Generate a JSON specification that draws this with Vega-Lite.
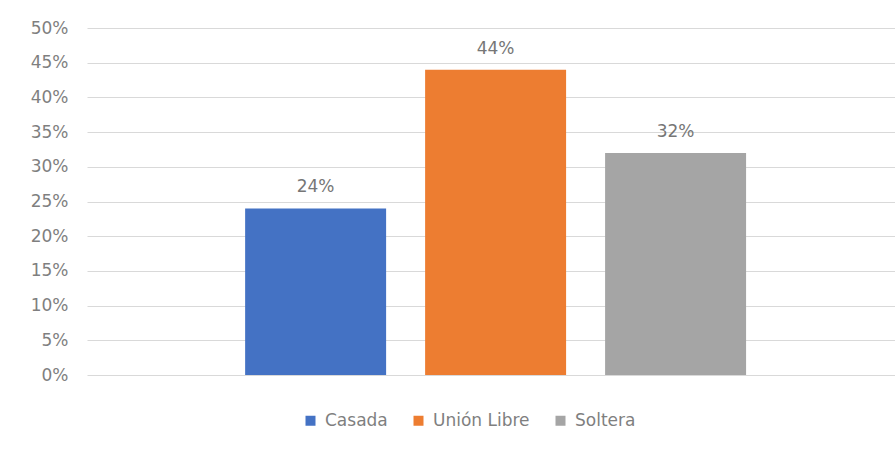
{
  "$schema": "https://vega.github.io/schema/vega-lite/v6.json",
  "width": 808,
  "height": 347,
  "autosize": {"type": "none"},
  "padding": {"left": 87, "top": 28, "right": 0, "bottom": 78},
  "background": "white",
  "config": {
    "view": {"stroke": null},
    "font": "DejaVu Sans"
  },
  "data": {
    "values": [
      {"estado": "Casada", "pct": 0.24},
      {"estado": "Unión Libre", "pct": 0.44},
      {"estado": "Soltera", "pct": 0.32}
    ]
  },
  "encoding": {
    "x": {
      "field": "estado",
      "type": "nominal",
      "sort": ["Casada", "Unión Libre", "Soltera"],
      "scale": {"paddingInner": 0.2167, "paddingOuter": 0.853, "align": 0.515},
      "axis": null
    },
    "y": {
      "field": "pct",
      "type": "quantitative",
      "scale": {"domain": [0, 0.5], "nice": false},
      "axis": {
        "title": null,
        "format": ".0%",
        "values": [0, 0.05, 0.1, 0.15, 0.2, 0.25, 0.3, 0.35, 0.4, 0.45, 0.5],
        "domain": false,
        "ticks": false,
        "labelPadding": 19,
        "labelFontSize": 17,
        "labelColor": "#7f7f7f",
        "gridColor": "#d9d9d9",
        "gridWidth": 1.2
      }
    }
  },
  "layer": [
    {
      "mark": {"type": "bar"},
      "encoding": {
        "color": {
          "field": "estado",
          "type": "nominal",
          "sort": ["Casada", "Unión Libre", "Soltera"],
          "scale": {"domain": ["Casada", "Unión Libre", "Soltera"], "range": ["#4472c4", "#ed7d31", "#a5a5a5"]},
          "legend": {
            "title": null,
            "orient": "none",
            "direction": "horizontal",
            "legendX": 215,
            "legendY": 384,
            "symbolType": "square",
            "symbolSize": 100,
            "symbolStrokeWidth": 0,
            "labelFontSize": 17,
            "labelColor": "#7f7f7f",
            "columnPadding": 22,
            "labelOffset": 6
          }
        }
      }
    },
    {
      "mark": {"type": "text", "baseline": "alphabetic", "dy": -16, "fontSize": 17, "color": "#767676"},
      "encoding": {
        "text": {"field": "pct", "type": "quantitative", "format": ".0%"}
      }
    }
  ]
}
